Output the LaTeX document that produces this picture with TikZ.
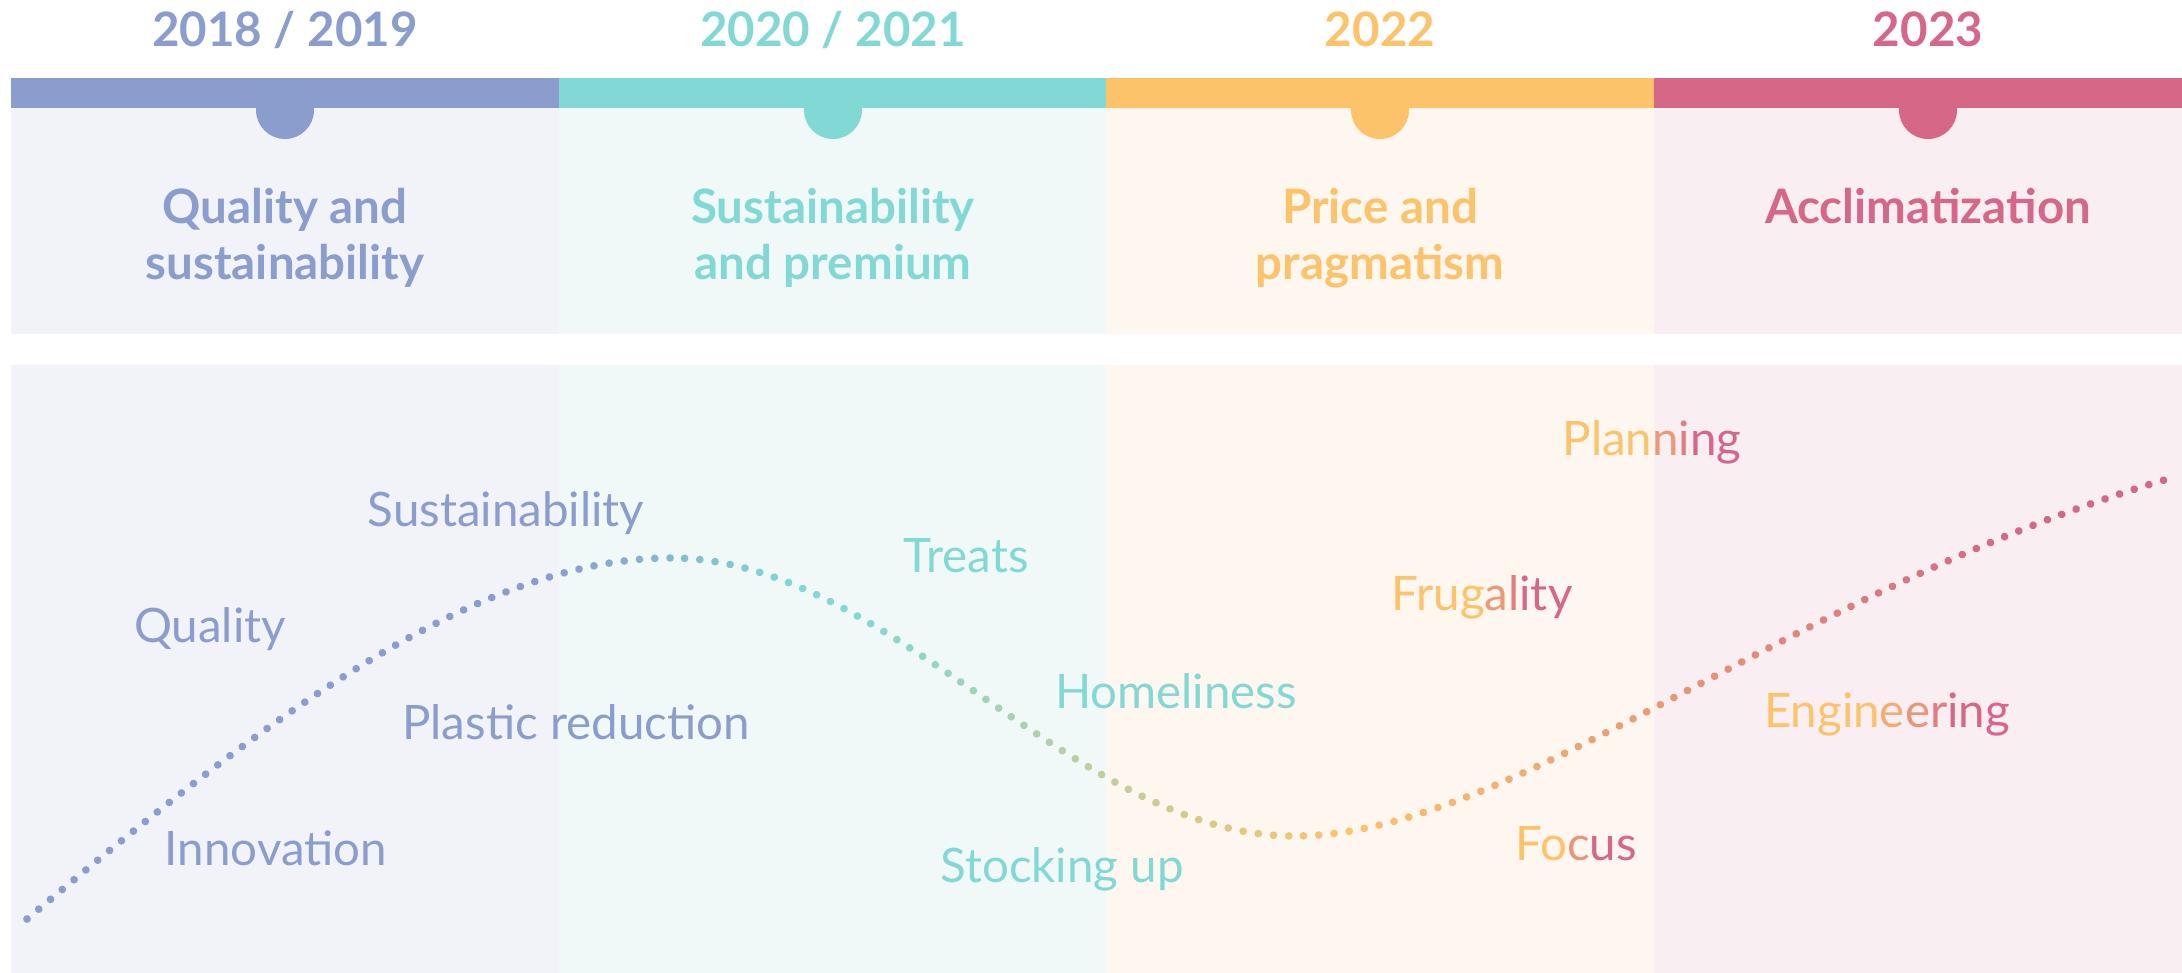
\documentclass[tikz,border=0pt]{standalone}
\usepackage{fontspec}
\setmainfont{Lato}
\usetikzlibrary{decorations.markings,positioning}

\definecolor{trendblue}{HTML}{8A9DCC}
\definecolor{trendteal}{HTML}{82D8D4}
\definecolor{trendorange}{HTML}{FDC36A}
\definecolor{trendpink}{HTML}{D66787}
\definecolor{bgblue}{HTML}{F2F3F9}
\definecolor{bgteal}{HTML}{F0F9F8}
\definecolor{bgorange}{HTML}{FEF7F0}
\definecolor{bgpink}{HTML}{F9EEF2}

% one dot of the trend line, coloured from its x position (1 unit = 0.01cm)
\newcommand\trenddot{%
  \pgfgettransformentries{\ta}{\tb}{\tc}{\td}{\tx}{\ty}%
  \pgfmathsetmacro\tpx{\tx/0.284528}%
  \ifdim\tpx pt<550pt \colorlet{dotcol}{trendblue}%
  \else\ifdim\tpx pt<800pt
    \pgfmathtruncatemacro\tmix{(\tpx-550)/2.5}\colorlet{dotcol}{trendteal!\tmix!trendblue}%
  \else\ifdim\tpx pt<850pt \colorlet{dotcol}{trendteal}%
  \else\ifdim\tpx pt<1350pt
    \pgfmathtruncatemacro\tmix{(\tpx-850)/5}\colorlet{dotcol}{trendorange!\tmix!trendteal}%
  \else\ifdim\tpx pt<2000pt
    \pgfmathtruncatemacro\tmix{(\tpx-1350)/6.5}\colorlet{dotcol}{trendpink!\tmix!trendorange}%
  \else \colorlet{dotcol}{trendpink}%
  \fi\fi\fi\fi\fi
  \fill[dotcol] (0pt,0pt) circle[radius=1.1pt];%
}
% letter shaded from orange towards pink
\newcommand\og[2]{\textcolor{trendpink!#1!trendorange}{#2}}

\begin{document}
\begin{tikzpicture}[x=0.01cm,y=-0.01cm,
  every node/.style={font=\fontsize{13.5}{15.9}\selectfont,inner sep=0pt},
  year/.style={font=\fontsize{13.5}{15.9}\selectfont\bfseries,anchor=base},
  head/.style={font=\fontsize{13.5}{15.9}\selectfont\bfseries,align=center,anchor=base},
  word/.style={anchor=base},
  tab/.style={circle,minimum size=0.58cm},
  trend/.style={decoration={markings,
      mark=between positions 0 and 1 step 0.153cm with {\trenddot}},decorate}]
\useasboundingbox[fill=white] (0,0) rectangle (2182,973);

% column backgrounds
\fill[bgblue] (11,108) rectangle (559,334);
\fill[bgteal] (559,108) rectangle (1106,334);
\fill[bgorange] (1106,108) rectangle (1654,334);
\fill[bgpink] (1654,108) rectangle (2182,334);
\fill[bgblue] (11,365) rectangle (559,973);
\fill[bgteal] (559,365) rectangle (1106,973);
\fill[bgorange] (1106,365) rectangle (1654,973);
\fill[bgpink] (1654,365) rectangle (2182,973);

% coloured bars with their tabs
\fill[trendblue] (11,78) rectangle (559,108);
\fill[trendteal] (559,78) rectangle (1106,108);
\fill[trendorange] (1106,78) rectangle (1654,108);
\fill[trendpink] (1654,78) rectangle (2182,108);
\node[tab,fill=trendblue] (tab1) at (285,110) {};
\node[tab,fill=trendteal] (tab2) at (833,110) {};
\node[tab,fill=trendorange] (tab3) at (1380,110) {};
\node[tab,fill=trendpink] (tab4) at (1928,110) {};

% years and phase titles (two-line titles sit on their last line)
\node[year,text=trendblue] (year1) at (285,47) {2018 / 2019};
\node[year,text=trendteal] (year2) at (833,47) {2020 / 2021};
\node[year,text=trendorange] (year3) at (1380,47) {2022};
\node[year,text=trendpink] (year4) at (1928,47) {2023};
\node[head,text=trendblue] (head1) at (285,279) {Quality and\\sustainability};
\node[head,text=trendteal] (head2) at (833,279) {Sustainability\\and premium};
\node[head,text=trendorange] (head3) at (1380,279) {Price and\\pragmatism};
\node[head,text=trendpink] (head4) at (1928,223) {Acclimatization};

% trend line
\path[trend] (27,919) .. controls (257,726) and (471,558) .. (671,558)
  .. controls (891,558) and (1074,836) .. (1294,836)
  .. controls (1514,836) and (1794,586) .. (2178,476);

% keywords
\node[word,text=trendblue] (quality) at (210,642) {Quality};
\node[word,text=trendblue] (sustain) at (506,526) {Sustainability};
\node[word,text=trendblue] (plastic) at (576,739) {Plastic reduction};
\node[word,text=trendblue] (innov) at (276,865) {Innovation};
\node[word,text=trendteal] (treats) at (966,572) {Treats};
\node[word,text=trendteal] (homely) at (1176,708) {Homeliness};
\node[word,text=trendteal] (stock) at (1062,882) {Stocking up};
\node[word,text=trendorange] (planning) at (1652,455) {Plan\og{45}{n}\og{75}{i}\og{100}{ng}};
\node[word,text=trendorange] (frugal) at (1482,610) {Frug\og{45}{a}\og{75}{l}\og{100}{ity}};
\node[word,text=trendorange] (engin) at (1887,727) {Engin\og{25}{e}\og{50}{e}\og{75}{r}\og{100}{ing}};
\node[word,text=trendorange] (focus) at (1576,860) {Fo\og{50}{c}\og{100}{us}};
\end{tikzpicture}
\end{document}
